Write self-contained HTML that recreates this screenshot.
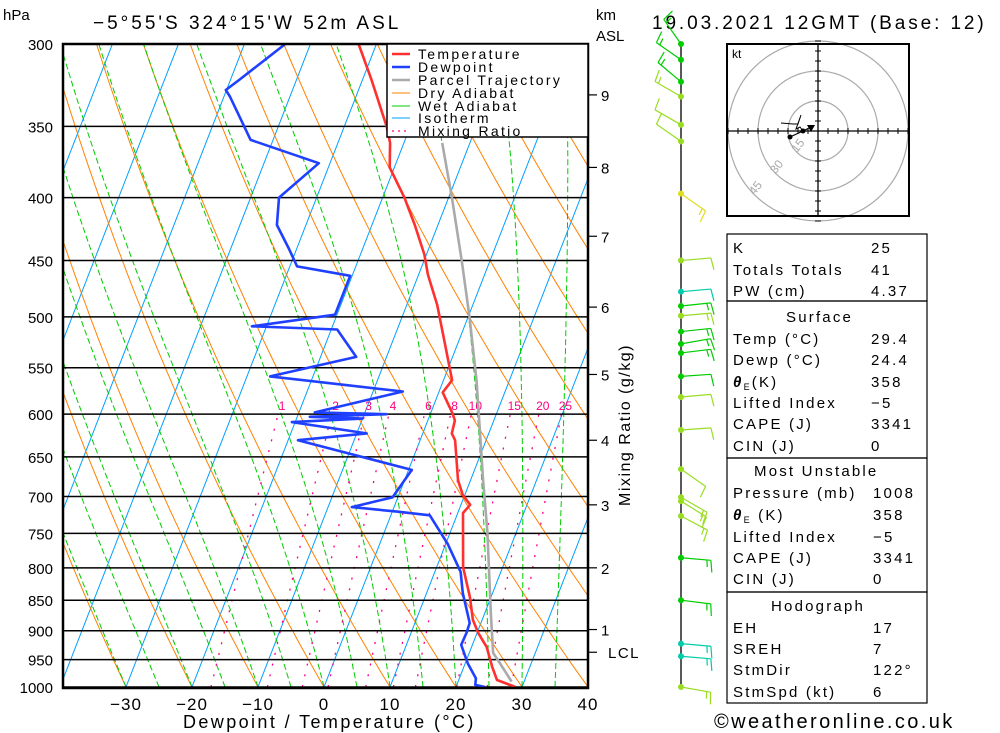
<!DOCTYPE html>
<html><head><meta charset="utf-8"><style>
html,body{margin:0;padding:0;background:#fff;}
svg{display:block;font-family:"Liberation Sans",sans-serif;}
</style></head><body>
<svg id="chart" width="1000" height="733" viewBox="0 0 1000 733" xmlns="http://www.w3.org/2000/svg">
<defs><clipPath id="plotclip"><rect x="63" y="44" width="525" height="644"/></clipPath></defs>
<rect width="1000" height="733" fill="#fff"/>
<g id="bg" clip-path="url(#plotclip)"></g>
<g id="grid"></g>
<g id="series" clip-path="url(#plotclip)"></g>
<g id="axes"></g>
<g id="legend">
 <rect x="387" y="44" width="201" height="93" fill="#fff" stroke="#000" stroke-width="1.5"/>
 <g font-size="14" fill="#000" letter-spacing="2.3">
  <line x1="392" y1="54" x2="410" y2="54" stroke="#ff3030" stroke-width="2.5"/><text x="418" y="59">Temperature</text>
  <line x1="392" y1="67" x2="410" y2="67" stroke="#2040ff" stroke-width="2.5"/><text x="418" y="72">Dewpoint</text>
  <line x1="392" y1="80" x2="410" y2="80" stroke="#aaa" stroke-width="2.5"/><text x="418" y="85">Parcel Trajectory</text>
  <line x1="392" y1="93" x2="410" y2="93" stroke="#ff8000" stroke-width="1"/><text x="418" y="98">Dry Adiabat</text>
  <line x1="392" y1="106" x2="410" y2="106" stroke="#00cc00" stroke-width="1"/><text x="418" y="111">Wet Adiabat</text>
  <line x1="392" y1="118" x2="410" y2="118" stroke="#00a0ff" stroke-width="1"/><text x="418" y="123">Isotherm</text>
  <line x1="392" y1="131" x2="410" y2="131" stroke="#ff0080" stroke-width="1.2" stroke-dasharray="2,4"/><text x="418" y="136">Mixing Ratio</text>
 </g>
</g>
<g id="text" fill="#000">
 <text x="3" y="20" font-size="15">hPa</text>
 <text x="93" y="29" font-size="19" letter-spacing="3">−5°55'S 324°15'W 52m ASL</text>
 <text x="596" y="20" font-size="15">km</text>
 <text x="596" y="41" font-size="15">ASL</text>
 <text x="652" y="29" font-size="19" letter-spacing="2.9">19.03.2021 12GMT (Base: 12)</text>
 <text x="183" y="728" font-size="18" letter-spacing="2.4">Dewpoint / Temperature (°C)</text>
 <text transform="translate(630,425) rotate(-90)" font-size="16" letter-spacing="1.5" text-anchor="middle">Mixing Ratio (g/kg)</text>
 <text x="714" y="728" font-size="20" letter-spacing="2.4">©weatheronline.co.uk</text>
</g>
<g id="winds"></g>
<g id="hodo"></g>
<g id="table" font-size="15" fill="#000" letter-spacing="2.2">
 <rect x="727" y="234" width="200" height="67" fill="none" stroke="#000" stroke-width="1.2"/>
 <rect x="727" y="301" width="200" height="157" fill="none" stroke="#000" stroke-width="1.2"/>
 <rect x="727" y="458" width="200" height="134" fill="none" stroke="#000" stroke-width="1.2"/>
 <rect x="727" y="592" width="200" height="111" fill="none" stroke="#000" stroke-width="1.2"/>
 <text x="733" y="253">K</text><text x="871" y="253">25</text>
 <text x="733" y="275">Totals Totals</text><text x="871" y="275">41</text>
 <text x="733" y="296">PW (cm)</text><text x="871" y="296">4.37</text>
 <text x="786" y="322">Surface</text>
 <text x="733" y="344">Temp (°C)</text><text x="871" y="344">29.4</text>
 <text x="733" y="365">Dewp (°C)</text><text x="871" y="365">24.4</text>
 <text x="733" y="387"><tspan font-style="italic" font-weight="bold">θ</tspan><tspan font-size="9" dy="3">E</tspan><tspan dy="-3">(K)</tspan></text><text x="871" y="387">358</text>
 <text x="733" y="408">Lifted Index</text><text x="871" y="408">−5</text>
 <text x="733" y="429">CAPE (J)</text><text x="871" y="429">3341</text>
 <text x="733" y="451">CIN (J)</text><text x="871" y="451">0</text>
 <text x="754" y="476">Most Unstable</text>
 <text x="733" y="498">Pressure (mb)</text><text x="873" y="498">1008</text>
 <text x="733" y="520"><tspan font-style="italic" font-weight="bold">θ</tspan><tspan font-size="9" dy="3">E</tspan><tspan dy="-3"> (K)</tspan></text><text x="873" y="520">358</text>
 <text x="733" y="542">Lifted Index</text><text x="873" y="542">−5</text>
 <text x="733" y="563">CAPE (J)</text><text x="873" y="563">3341</text>
 <text x="733" y="584">CIN (J)</text><text x="873" y="584">0</text>
 <text x="771" y="611">Hodograph</text>
 <text x="733" y="633">EH</text><text x="873" y="633">17</text>
 <text x="733" y="654">SREH</text><text x="873" y="654">7</text>
 <text x="733" y="675">StmDir</text><text x="873" y="675">122°</text>
 <text x="733" y="697">StmSpd (kt)</text><text x="873" y="697">6</text>
</g>
<script>
// ---- data ----
const tempP = [1000,987,963,928,904,882,845,799,722,711,698,679,630,622,607,598,576,563,542,512,489,462,445,421,400,378,361,350,321,300];
const tempT = [29.0,25.8,24.3,22.3,20.2,18.6,16.8,14.0,10.8,11.4,9.7,8.1,5.3,4.4,4.1,3.2,0.6,1.3,-0.5,-3.2,-5.4,-8.6,-10.3,-13.5,-16.7,-20.7,-22.1,-23.6,-28.6,-32.7];
const dewP = [1000,996,984,957,924,904,887,839,806,765,725,720,714,701,666,630,622,609,605,603,600,598,575,559,539,512,509,498,463,455,440,421,400,375,359,331,327,321,300];
const dewT = [24.4,22.8,22.5,20.4,18.3,18.4,18.3,15.5,13.9,10.3,5.9,0.7,-6.4,-0.8,0.5,-18.5,-8.5,-20.5,-10.0,-18.1,-6.6,-17.6,-5.5,-26.5,-14.6,-19.1,-32.2,-20.3,-20.3,-28.9,-31.2,-34.4,-35.7,-31.7,-43.4,-49.1,-50.1,-48.7,-43.8];
const parcelP = [990,957,938,873,748,679,619,563,500,450,400,361];
const parcelT = [28.1,25.3,23.6,21.0,15.6,11.9,8.5,5.0,0.2,-4.3,-9.5,-14.2];
const pressureTicks = [300,350,400,450,500,550,600,650,700,750,800,850,900,950,1000];
const tempTicks = [-30,-20,-10,0,10,20,30,40];
const mixRatios = [1,2,3,4,6,8,10,15,20,25];
const kmLabels = ["9","8","7","6","5","4","3","2","1","LCL"];
const kmPress = [330,378,430,491,557,630,711,800,898,937];
const windP = [300,309,322,331,349,360,397,450,477,490,499,514,526,535,559,581,618,665,701,706,726,785,850,922,944,1000];
const windDir = [325,305,310,300,300,305,125,85,85,84,85,84,80,83,86,85,86,125,120,122,118,95,97,95,95,100];
const windSpd = [15,15,15,15,10,10,15,10,10,15,15,15,15,15,10,10,10,10,15,15,15,15,15,15,15,15];
const windCol = ["#00cc00","#00cc00","#00cc00","#99dd22","#99dd22","#99dd22","#dddd22","#99dd22","#00ccaa","#00cc00","#99dd22","#00cc00","#00cc00","#00cc00","#00cc00","#99dd22","#99dd22","#99dd22","#99dd22","#99dd22","#99dd22","#00cc00","#00cc00","#00ccaa","#00ccaa","#99dd22"];
const hodoU = [-14,-7.5,-3.5];
const hodoV = [-3,0,2];
const hodoU2 = [-18.5,-12.5,-10,-8.5,-11,-9,-7.5];
const hodoV2 = [4,3.5,3.5,8,1,2,0];
const hodoRings = [15,30,45];

// ---- scales ----
const NS="http://www.w3.org/2000/svg";
const YS = 643/Math.log(1000/300);
function yP(p){return 44 + YS*Math.log(p/300);}
function xT(T,p){return 324 + 6.6*T + 208*Math.log(1000/p);}
function el(tag,attrs,parent){const e=document.createElementNS(NS,tag);for(const k in attrs)e.setAttribute(k,attrs[k]);parent.appendChild(e);return e;}
function pathOf(pts){return pts.map((q,i)=>(i?"L":"M")+xT(q[1],q[0]).toFixed(1)+","+yP(q[0]).toFixed(1)).join("");}
const bg=document.getElementById('bg');

for(let T=-130;T<=40;T+=10){
  const l=el('line',{x1:xT(T,1050),y1:yP(1050),x2:xT(T,290),y2:yP(290),stroke:'#00a0ff','stroke-width':1},bg);
  
  
}
for(let T0=-40;T0<=150;T0+=10){
  const th=T0+273.15;const pts=[];
  for(let p=1000;p>=290;p-=10)pts.push([p,th*Math.pow(p/1000,0.2857)-273.15]);
  const l=el('path',{d:pathOf(pts),fill:'none',stroke:'#ff8000','stroke-width':1},bg);
  
  
}
for(let T0=-30;T0<=40;T0+=5){
  let T=T0+273.15;const pts=[];
  for(let p=1000;p>=290;p-=5){
    pts.push([p,T-273.15]);
    const Tc=T-273.15;const es=6.112*Math.exp(17.67*Tc/(Tc+243.5));const rs=0.622*es/(p-es);
    const dTdp=(287*T+2.5e6*rs)/(p*(1004+2.5e6*2.5e6*rs*0.622/(287*T*T)));
    T-=dTdp*5;
  }
  const l=el('path',{d:pathOf(pts),fill:'none',stroke:'#00cc00','stroke-width':1,'stroke-dasharray':'6,3'},bg);
  
  
}
function tdFromW(w,p){const e=w*p/(622+w);const a=Math.log(e/6.112);return 243.5*a/(17.67-a);}
mixRatios.forEach(w=>{
  const pts=[];for(let p=1000;p>=600;p-=10)pts.push([p,tdFromW(w,p)]);
  const l=el('path',{d:pathOf(pts),fill:'none',stroke:'#ff0080','stroke-width':1.3,'stroke-dasharray':'2,9'},bg);
  
  
  const t=el('text',{x:xT(tdFromW(w,600),600)+4,y:yP(600)-4,'font-size':12,fill:'#ff0080','text-anchor':'middle'},bg);
  t.textContent=w;
  
  
});

const grid=document.getElementById('grid');
pressureTicks.forEach(p=>{
  const l=el('line',{x1:63,x2:588,y1:yP(p),y2:yP(p),stroke:'#000','stroke-width':1.5},grid);
  
  
  const t=el('text',{x:53,y:yP(p)+6,'font-size':15,'text-anchor':'end',fill:'#000'},grid);
  t.textContent=p;
  
  
});

const series=document.getElementById('series');
function line(P,T,col,name){
  const l=el('path',{d:pathOf(P.map((p,i)=>[p,T[i]])),fill:'none',stroke:col,'stroke-width':2.6,'stroke-linejoin':'round'},series);
  
  
}
line(parcelP,parcelT,'#aaaaaa','parcel-trajectory');
line(tempP,tempT,'#ff3030','temperature-line');
line(dewP,dewT,'#2040ff','dewpoint-line');

const axes=document.getElementById('axes');
const box=el('rect',{x:63,y:44,width:525,height:644,fill:'none',stroke:'#000','stroke-width':2.5},axes);


tempTicks.forEach(T=>{
  const t=el('text',{x:xT(T,1000),y:710,'font-size':17,'text-anchor':'middle',fill:'#000','letter-spacing':1},axes);
  t.textContent=T<0?'−'+(-T):T;
  
  
});
kmPress.forEach((p,i)=>{
  const l=el('line',{x1:588,x2:597,y1:yP(p),y2:yP(p),stroke:'#000','stroke-width':1.2},axes);
  
  
  const t=el('text',{x:i===9?608:601,y:yP(p)+6,'font-size':15,fill:'#000','letter-spacing':1.5},axes);
  t.textContent=kmLabels[i];
  
  
});

const winds=document.getElementById('winds');
const ax=el('line',{x1:681,x2:681,y1:44,y2:688,stroke:'#000','stroke-width':1.3},winds);


windP.forEach((p,i)=>{
  const y=yP(p),d=windDir[i]*Math.PI/180,c=windCol[i];
  const ux=Math.sin(d),uy=-Math.cos(d);const px=-uy,py=ux;
  const ex=681+30*ux,ey=y+30*uy;
  const g=el('g',{stroke:c,'stroke-width':1.2,fill:'none'},winds);
  
  
  el('line',{x1:681,y1:y,x2:ex,y2:ey},g);
  let s=windSpd[i],k=0;
  while(s>=10){const bx=ex-k*4*ux,by=ey-k*4*uy;el('line',{x1:bx,y1:by,x2:bx+12*px+2*ux,y2:by+12*py+2*uy},g);s-=10;k++;}
  if(s>=5){const bx=ex-k*4*ux,by=ey-k*4*uy;el('line',{x1:bx,y1:by,x2:bx+7*px+1*ux,y2:by+7*py+1*uy},g);}
  el('circle',{cx:681,cy:y,r:3,fill:c,stroke:'none'},g);
});

const hodo=document.getElementById('hodo');
const HX=818,HY=131,HS=2;
el('rect',{x:727,y:44,width:182,height:172,fill:'#fff',stroke:'none'},hodo);
hodoRings.forEach(r=>{
  const c=el('circle',{cx:HX,cy:HY,r:r*HS,fill:'none',stroke:'#aaa','stroke-width':1.2},hodo);
  
  
  const rr=r*HS-6, tx=HX-rr*Math.cos(Math.PI/4), ty=HY+rr*Math.sin(Math.PI/4);
  const t=el('text',{x:tx,y:ty,'font-size':12,fill:'#aaa','text-anchor':'middle',transform:`rotate(-52 ${tx} ${ty})`},hodo);
  t.textContent=r;
  
  
});
el('line',{x1:727,x2:909,y1:HY,y2:HY,stroke:'#000','stroke-width':1.3},hodo);
el('line',{x1:HX,x2:HX,y1:44,y2:216,stroke:'#000','stroke-width':1.3},hodo);
for(let k=-45;k<=45;k+=5){if(k===0)continue;
  el('line',{x1:HX+k*HS,x2:HX+k*HS,y1:HY-3,y2:HY+3,stroke:'#000','stroke-width':1},hodo);
  el('line',{x1:HX-3,x2:HX+3,y1:HY+k*HS,y2:HY+k*HS,stroke:'#000','stroke-width':1},hodo);}
const hp=hodoU.map((u,i)=>(i?'L':'M')+(HX+u*HS)+','+(HY-hodoV[i]*HS)).join('');
const h1=el('path',{d:hp,fill:'none',stroke:'#000','stroke-width':1.2},hodo);


const hp2=hodoU2.map((u,i)=>(i?'L':'M')+(HX+u*HS)+','+(HY-hodoV2[i]*HS)).join('');
const h2=el('path',{d:hp2,fill:'none',stroke:'#000','stroke-width':1},hodo);


el('circle',{cx:HX+hodoU[0]*HS,cy:HY-hodoV[0]*HS,r:2.5,fill:'#000'},hodo);
el('circle',{cx:HX+hodoU[1]*HS,cy:HY-hodoV[1]*HS,r:2.5,fill:'#000'},hodo);
const tri=el('path',{d:`M${HX-11},${HY-6}L${HX-3},${HY-6}L${HX-7},${HY+1}Z`,fill:'#000'},hodo);


const hb=el('rect',{x:727,y:44,width:182,height:172,fill:'none',stroke:'#000','stroke-width':2},hodo);


const kt=el('text',{x:732,y:58,'font-size':12,fill:'#000'},hodo);
kt.textContent='kt';


</script>
</svg>
</body></html>
